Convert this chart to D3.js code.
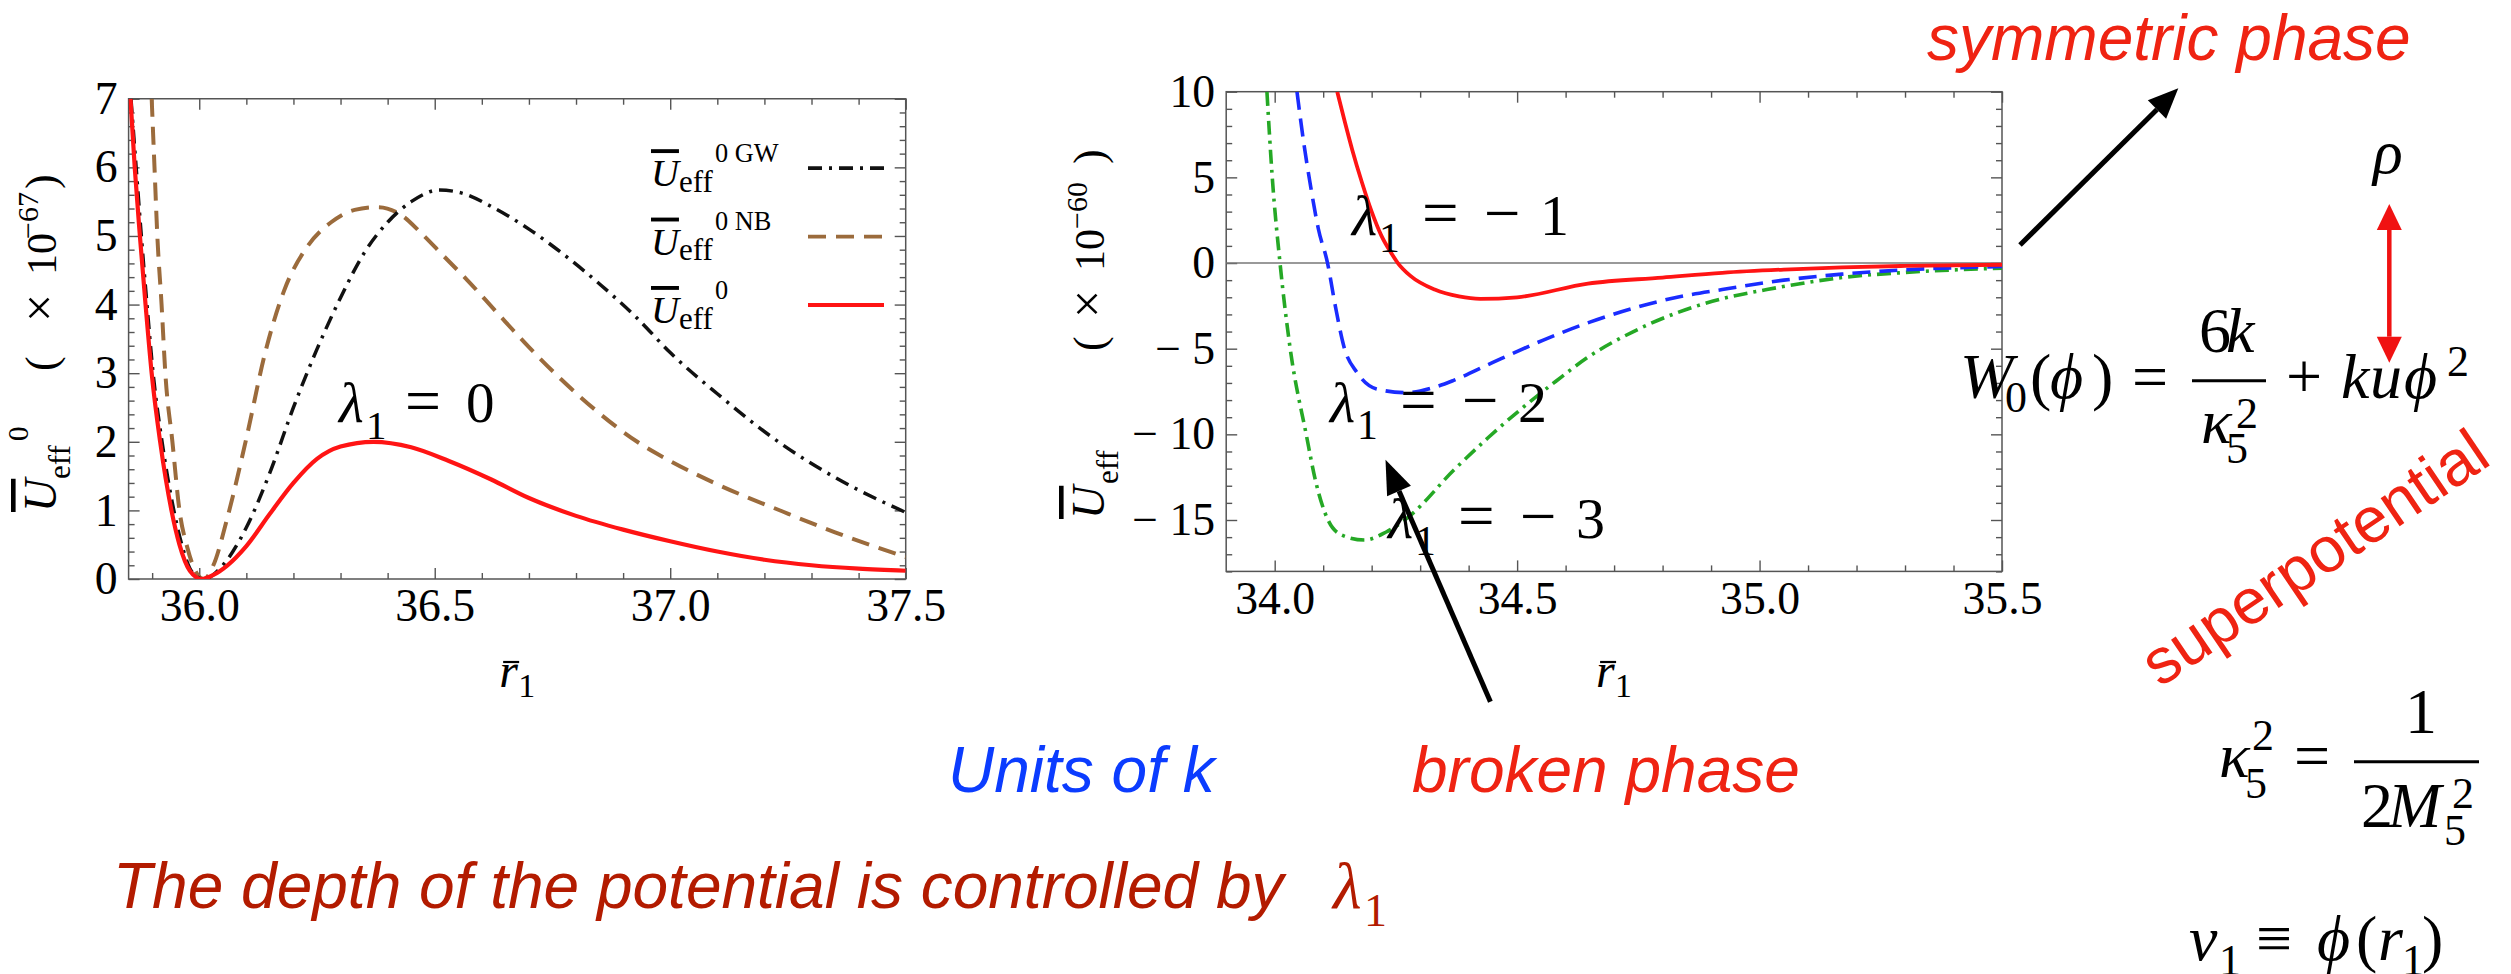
<!DOCTYPE html>
<html><head><meta charset="utf-8">
<script src="https://cdn.jsdelivr.net/npm/d3@7"></script>
<style>html,body{margin:0;padding:0;background:#fff;}svg{display:block;}</style>
</head><body>
<svg id="c" width="2511" height="974"></svg>
<script>
// ---------------- data ----------------
const leftXTicks = [36.0, 36.5, 37.0, 37.5];
const leftYTicks = [0, 1, 2, 3, 4, 5, 6, 7];
const midXTicks = [34.0, 34.5, 35.0, 35.5];
const midYTicks = [-15, -10, -5, 0, 5, 10];

// left panel: U_eff^0 GW (black dot-dash), U_eff^0 NB (brown dashed), U_eff^0 (red)
const gwX = [35.855,35.866,35.877,35.889,35.902,35.921,35.946,35.963,35.985,36.01,36.05,36.10,36.15,36.20,36.25,36.30,36.35,36.40,36.45,36.51,36.56,36.62,36.70,36.77,36.85,36.93,37.00,37.10,37.24,37.35,37.50];
const gwY = [7.0,6.0,5.0,4.0,3.0,2.0,1.0,0.5,0.1,0.0,0.2,0.75,1.55,2.5,3.35,4.1,4.75,5.2,5.5,5.67,5.62,5.43,5.1,4.75,4.3,3.8,3.3,2.7,1.95,1.48,0.97];
const nbX = [35.899,35.905,35.911,35.92,35.928,35.943,35.958,35.975,35.995,36.01,36.03,36.06,36.10,36.14,36.18,36.23,36.28,36.33,36.38,36.43,36.47,36.52,36.57,36.63,36.70,36.77,36.84,36.93,37.00,37.10,37.24,37.35,37.50];
const nbY = [7.0,6.0,5.0,4.0,3.0,2.0,1.0,0.45,0.08,0.0,0.2,0.9,2.05,3.3,4.2,4.85,5.2,5.38,5.42,5.3,5.05,4.7,4.35,3.9,3.38,2.9,2.47,2.0,1.72,1.38,0.98,0.68,0.32];
const u0X = [35.854,35.863,35.874,35.886,35.899,35.917,35.941,35.958,35.98,36.005,36.03,36.06,36.10,36.15,36.20,36.25,36.30,36.37,36.45,36.53,36.62,36.70,36.80,36.90,37.00,37.10,37.20,37.30,37.40,37.50];
const u0Y = [7.0,6.0,5.0,4.0,3.0,2.0,1.0,0.5,0.12,0.0,0.06,0.2,0.48,0.95,1.40,1.75,1.93,2.0,1.92,1.72,1.45,1.18,0.92,0.72,0.55,0.4,0.28,0.2,0.15,0.12];

// middle panel: lambda1 = -1 (red), -2 (blue dashed), -3 (green dot-dash)
const lam1X = [34.129,34.145,34.16,34.18,34.20,34.22,34.24,34.254,34.28,34.33,34.38,34.424,34.50,34.646,34.80,34.923,35.05,35.17,35.30,35.50];
const lam1Y = [10,8.2,6.6,4.7,3.0,1.6,0.6,0.0,-0.75,-1.55,-1.95,-2.09,-2.0,-1.2,-0.85,-0.57,-0.38,-0.25,-0.17,-0.1];
const lam2X = [34.046,34.06,34.074,34.09,34.109,34.125,34.143,34.17,34.21,34.272,34.33,34.369,34.45,34.554,34.65,34.738,34.83,34.923,35.05,35.17,35.30,35.50];
const lam2Y = [10,7,4.5,2.0,0.0,-2.5,-4.9,-6.4,-7.35,-7.57,-7.25,-6.85,-5.8,-4.5,-3.45,-2.65,-2.0,-1.55,-1.0,-0.65,-0.4,-0.2];
const lam3X = [33.984,33.995,34.011,34.032,34.065,34.085,34.11,34.14,34.185,34.23,34.277,34.369,34.44,34.507,34.58,34.646,34.74,34.83,34.92,35.015,35.17,35.30,35.50];
const lam3Y = [10,5,0,-5,-10,-12.8,-15,-15.9,-16.17,-15.7,-14.8,-12.1,-10.2,-8.55,-6.9,-5.5,-4.0,-2.9,-2.1,-1.55,-0.85,-0.55,-0.3];

const legendSup = ["0 GW", "0 NB", "0"];
const lambdaLabels = ["0", "1", "2", "3"];

// ---------------- setup ----------------
const SERIF = "'Liberation Serif','Times New Roman',Times,serif";
const SANS = "'Liberation Sans',Arial,Helvetica,sans-serif";
const svg = d3.select("#c");
svg.append("rect").attr("width", 2511).attr("height", 974).attr("fill", "#fff");

function fitSize(str, target, family, italic) {
  const p = svg.append("text").attr("font-family", family).attr("font-size", 100)
    .attr("font-style", italic ? "italic" : "normal").text(str);
  const w = p.node().getComputedTextLength();
  p.remove();
  return w > 0 ? 100 * target / w : 45;
}
const TICK_FS = Math.min(50, Math.max(38, fitSize("36.0", 80, SERIF, false)));

const xL = d3.scaleLinear().domain([35.85, 37.5]).range([128.6, 905.7]);
const yL = d3.scaleLinear().domain([0, 7]).range([579, 98.75]);
const xM = d3.scaleLinear().domain([33.9, 35.5]).range([1226.2, 2002]);
const yM = d3.scaleLinear().domain([-18, 10]).range([571.4, 91.7]);

function minorTicks(lo, hi, step, majors) {
  const out = [];
  for (let v = lo; v <= hi + 1e-9; v += step) {
    const r = Math.round(v * 1000) / 1000;
    if (!majors.some(m => Math.abs(m - r) < 1e-6)) out.push(r);
  }
  return out;
}

function panel(x, y, xMaj, xMin, yMaj, yMin, xFmt, yFmt) {
  const g = svg.append("g");
  const [X0, X1] = x.range();
  const [Y0, Y1] = y.range();
  const style = sel => {
    sel.select(".domain").remove();
    sel.attr("color", "#555");
    sel.selectAll("line").attr("stroke-width", 1.4);
    sel.selectAll("text").attr("fill", "#000").attr("font-family", SERIF).attr("font-size", TICK_FS);
  };
  g.append("g").attr("transform", `translate(0,${Y0})`).call(d3.axisBottom(x).tickValues(xMaj).tickSize(-11).tickPadding(10).tickFormat(xFmt)).call(style);
  g.append("g").attr("transform", `translate(0,${Y0})`).call(d3.axisBottom(x).tickValues(xMin).tickSize(-6).tickFormat("")).call(style);
  g.append("g").attr("transform", `translate(0,${Y1})`).call(d3.axisTop(x).tickValues(xMaj).tickSize(-11).tickFormat("")).call(style);
  g.append("g").attr("transform", `translate(0,${Y1})`).call(d3.axisTop(x).tickValues(xMin).tickSize(-6).tickFormat("")).call(style);
  g.append("g").attr("transform", `translate(${X0},0)`).call(d3.axisLeft(y).tickValues(yMaj).tickSize(-11).tickPadding(11).tickFormat(yFmt)).call(style);
  g.append("g").attr("transform", `translate(${X0},0)`).call(d3.axisLeft(y).tickValues(yMin).tickSize(-6).tickFormat("")).call(style);
  g.append("g").attr("transform", `translate(${X1},0)`).call(d3.axisRight(y).tickValues(yMaj).tickSize(-11).tickFormat("")).call(style);
  g.append("g").attr("transform", `translate(${X1},0)`).call(d3.axisRight(y).tickValues(yMin).tickSize(-6).tickFormat("")).call(style);
  g.append("rect").attr("x", X0).attr("y", Y1).attr("width", X1 - X0).attr("height", Y0 - Y1)
    .attr("fill", "none").attr("stroke", "#555").attr("stroke-width", 1.5);
  return g;
}

const defs = svg.append("defs");
defs.append("clipPath").attr("id", "clipL").append("rect")
  .attr("x", xL.range()[0]).attr("y", yL.range()[1]).attr("width", xL.range()[1] - xL.range()[0]).attr("height", yL.range()[0] - yL.range()[1]);
defs.append("clipPath").attr("id", "clipM").append("rect")
  .attr("x", xM.range()[0]).attr("y", yM.range()[1]).attr("width", xM.range()[1] - xM.range()[0]).attr("height", yM.range()[0] - yM.range()[1]);

const fmt1 = d3.format(".1f");
panel(xL, yL, leftXTicks, minorTicks(35.9, 37.4, 0.1, leftXTicks), leftYTicks, minorTicks(0, 7, 0.2, leftYTicks), fmt1, d3.format("d"));
panel(xM, yM, midXTicks, minorTicks(34.0, 35.4, 0.1, midXTicks), midYTicks, minorTicks(-18, 10, 1, midYTicks), fmt1,
  v => v < 0 ? "\u2212 " + Math.abs(v) : String(v));

// zero line in middle panel
svg.append("line").attr("x1", xM(33.9)).attr("x2", xM(35.5)).attr("y1", yM(0)).attr("y2", yM(0))
  .attr("stroke", "#777").attr("stroke-width", 1.5);

// ---------------- curves ----------------
const zip = (a, b) => a.map((v, i) => [v, b[i]]);
function curve(x, y, xs, ys, clip, color, width, dash) {
  const line = d3.line().x(d => x(d[0])).y(d => y(d[1])).curve(d3.curveMonotoneX);
  svg.append("path").datum(zip(xs, ys)).attr("d", line).attr("clip-path", `url(#${clip})`)
    .attr("fill", "none").attr("stroke", color).attr("stroke-width", width)
    .attr("stroke-dasharray", dash || null).attr("stroke-linejoin", "round");
}
const C_GW = "#111", C_NB = "#9b6b3c", C_RED = "#ff1414", C_BLUE = "#1a2cff", C_GREEN = "#25a825";
const D_GW = "14,7,3,7", D_NB = "18,10", D_BLUE = "18,9", D_GREEN = "14,6,3,6";
curve(xL, yL, nbX, nbY, "clipL", C_NB, 4, D_NB);
curve(xL, yL, gwX, gwY, "clipL", C_GW, 3.5, D_GW);
curve(xL, yL, u0X, u0Y, "clipL", C_RED, 4.2, null);

curve(xM, yM, lam3X, lam3Y, "clipM", C_GREEN, 3.6, D_GREEN);
curve(xM, yM, lam2X, lam2Y, "clipM", C_BLUE, 3.6, D_BLUE);
curve(xM, yM, lam1X, lam1Y, "clipM", C_RED, 3.8, null);

// ---------------- legend ----------------
const legColors = [C_GW, C_NB, C_RED], legDash = [D_GW, D_NB, null];
function legendText(x, y, s, base) {
  const t = svg.append("text").attr("x", x).attr("y", y).attr("font-family", SERIF).attr("font-size", base);
  t.append("tspan").attr("font-style", "italic").style("text-decoration", "overline").text("U");
  t.append("tspan").attr("font-size", base * 0.8).attr("dy", base * 0.15).text("eff");
  t.append("tspan").attr("font-size", base * 0.68).attr("dy", -base * 0.78).attr("dx", base * 0.06).text(s);
  return t;
}
const probeLeg = legendText(0, -100, legendSup[0], 100);
const wLeg = probeLeg.node().getBBox().width;
probeLeg.remove();
const LEG_FS = Math.min(42, Math.max(30, wLeg > 0 ? 100 * 128 / wLeg : 34));
legendSup.forEach((s, i) => {
  const ly = 168.2 + i * 68.4;
  svg.append("line").attr("x1", 808).attr("x2", 884).attr("y1", ly).attr("y2", ly)
    .attr("stroke", legColors[i]).attr("stroke-width", 3.8).attr("stroke-dasharray", legDash[i]);
  legendText(651, ly + 18, s, LEG_FS);
});

// ---------------- axis titles (rotated pieces) ----------------
function vtext(t, bx, yStart, fs, it, over) {
  const e = svg.append("text").attr("transform", `translate(${bx},${yStart}) rotate(-90)`)
    .attr("font-family", SERIF).attr("font-size", fs).attr("font-style", it ? "italic" : "normal").attr("fill", "#000").text(t);
  if (over) e.style("text-decoration", "overline");
  return e;
}
vtext("U", 56, 512, 46, true, true);
vtext("eff", 70, 479, 31);
vtext("0", 28, 441, 29);
vtext("(", 56, 371, 44);
vtext("\u00d7", 56, 322, 50);
vtext("10", 56, 275, 42);
vtext("\u221267", 38, 239, 30);
vtext(")", 56, 189, 44);

vtext("U", 1104, 519, 46, true, true);
vtext("eff", 1118, 484, 31);
vtext("(", 1104, 351, 44);
vtext("\u00d7", 1104, 318, 50);
vtext("10", 1104, 271, 42);
vtext("\u221260", 1087, 229, 30);
vtext(")", 1104, 164, 44);

function xTitle(cx) {
  const x0 = cx - 18;
  svg.append("text").attr("x", x0).attr("y", 687).attr("font-family", SERIF).attr("font-size", 48)
    .attr("font-style", "italic").text("r");
  svg.append("text").attr("x", x0 + 19).attr("y", 697).attr("font-family", SERIF).attr("font-size", 34).text("1");
  svg.append("line").attr("x1", x0 + 4).attr("x2", x0 + 20).attr("y1", 662).attr("y2", 662)
    .attr("stroke", "#000").attr("stroke-width", 2.2);
}
xTitle(xL(36.675));
xTitle(xM(34.70));

// ---------------- lambda labels ----------------
function lamLabel(x0, base, val, neg, fs) {
  const mk = (t, dx, dy, size, it) => svg.append("text").attr("x", x0 + dx).attr("y", base + dy)
    .attr("font-family", SERIF).attr("font-size", size).attr("font-style", it ? "italic" : "normal").attr("fill", "#000").text(t);
  mk("\u03bb", 0, 0, fs, true);
  mk("1", 27, 17, fs * 0.72, false);
  if (neg) {
    mk("=", 70, 0, fs * 1.12, false);
    mk("\u2212", 132, 0, fs * 1.12, false);
    mk(val, 188, 0, fs, false);
  } else {
    mk("=", 66, 0, fs * 1.12, false);
    mk(val, 127, 0, fs, false);
  }
}
lamLabel(339, 422, lambdaLabels[0], false, 57);
lamLabel(1352, 235, lambdaLabels[1], true, 58);
lamLabel(1330, 422, lambdaLabels[2], true, 58);
lamLabel(1388, 538, lambdaLabels[3], true, 58);

// ---------------- arrows ----------------
function arrow(x1, y1, x2, y2, color, w, hl, hw, both) {
  const ang = Math.atan2(y2 - y1, x2 - x1);
  const head = (tx, ty, a) => {
    const bx = tx - hl * Math.cos(a), by = ty - hl * Math.sin(a);
    const px = -Math.sin(a) * hw / 2, py = Math.cos(a) * hw / 2;
    svg.append("path").attr("d", `M${tx},${ty}L${bx + px},${by + py}L${bx - px},${by - py}Z`).attr("fill", color);
    return [bx, by];
  };
  const [ex, ey] = head(x2, y2, ang);
  let sx = x1, sy = y1;
  if (both) { [sx, sy] = head(x1, y1, ang + Math.PI); }
  svg.append("line").attr("x1", sx).attr("y1", sy).attr("x2", ex).attr("y2", ey)
    .attr("stroke", color).attr("stroke-width", w);
}
arrow(1490.4, 701.8, 1385.5, 459.8, "#000", 5, 34, 26, false);
arrow(2020, 245, 2178.3, 88.3, "#000", 5, 30, 26, false);
arrow(2389.3, 362.7, 2389.3, 204, "#f01212", 4.5, 26, 25, true);

// ---------------- annotation texts ----------------
function tx(t, x, y, o = {}) {
  return svg.append("text").attr("x", x).attr("y", y).attr("font-family", o.ff || SERIF)
    .attr("font-size", o.fs || 64).attr("font-style", o.it ? "italic" : "normal")
    .attr("fill", o.fill || "#000").text(t);
}
const RED = "#ef2312", DARKRED = "#b31b00", BLUE = "#0b3cff";
tx("symmetric phase", 1927, 60, { ff: SANS, it: true, fill: RED });
tx("broken phase", 1412, 792, { ff: SANS, it: true, fill: RED });
tx("Units of k", 948, 792, { ff: SANS, it: true, fill: BLUE });
tx("The depth of the potential is controlled by", 113, 908, { ff: SANS, it: true, fill: DARKRED });
tx("\u03bb", 1333, 908, { fs: 66, it: true, fill: DARKRED });
tx("1", 1364, 926, { fs: 46, fill: DARKRED });
svg.append("text").attr("transform", "translate(2160,688) rotate(-34)")
  .attr("font-family", SANS).attr("font-size", 64).attr("fill", RED).text("superpotential");

tx("\u03c1", 2373, 173, { fs: 62, it: true });

const PHI = "\u03d5";
tx("W", 1960, 398, { it: true });
tx("0", 2005, 412, { fs: 44 });
tx("(", 2030, 398);
tx(PHI, 2050, 398, { it: true });
tx(")", 2092, 398);
tx("=", 2132, 398);
tx("6", 2199, 352);
tx("k", 2226, 352, { it: true });
svg.append("line").attr("x1", 2192).attr("x2", 2266).attr("y1", 380.7).attr("y2", 380.7).attr("stroke", "#000").attr("stroke-width", 3);
tx("\u03ba", 2201, 443, { it: true });
tx("2", 2236, 428, { fs: 44 });
tx("5", 2226, 463, { fs: 44 });
tx("+", 2286, 398);
tx("k", 2341, 398, { it: true });
tx("u", 2370, 398, { it: true });
tx(PHI, 2404, 398, { it: true });
tx("2", 2447, 376, { fs: 44 });

tx("\u03ba", 2219, 777, { it: true });
tx("2", 2252, 750, { fs: 44 });
tx("5", 2245, 798, { fs: 44 });
tx("=", 2294, 777);
svg.append("line").attr("x1", 2354).attr("x2", 2479).attr("y1", 761.7).attr("y2", 761.7).attr("stroke", "#000").attr("stroke-width", 3);
tx("1", 2405, 733);
tx("2", 2361, 827);
tx("M", 2388, 827, { it: true });
tx("2", 2452, 808, { fs: 44 });
tx("5", 2444, 845, { fs: 44 });

tx("v", 2189, 960, { it: true });
tx("1", 2219, 975, { fs: 44 });
tx("\u2261", 2256, 960);
tx(PHI, 2317, 960, { it: true });
tx("(", 2356, 960);
tx("r", 2378, 960, { it: true });
tx("1", 2402, 975, { fs: 44 });
tx(")", 2422, 960);
</script>
</body></html>
